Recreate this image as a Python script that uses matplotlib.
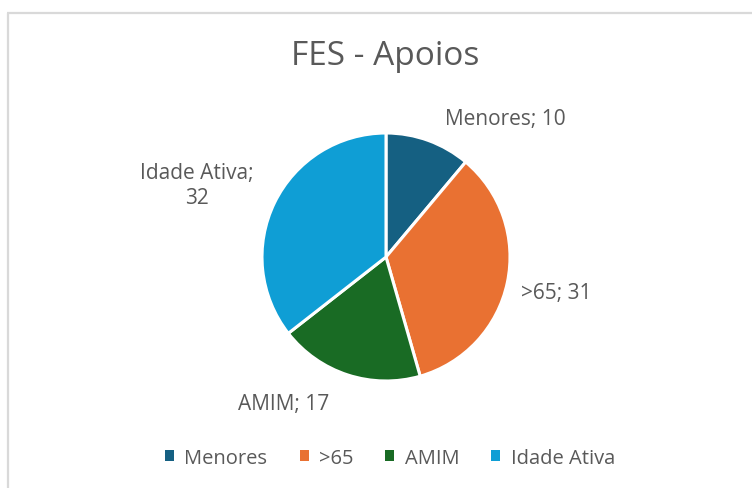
import matplotlib.pyplot as plt
from matplotlib.patches import Patch

categories = ["Menores", ">65", "AMIM", "Idade Ativa"]
values = [10, 31, 17, 32]
colors = ["#156082", "#E97132", "#196B24", "#0F9ED5"]
label_text = ["Menores; 10", ">65; 31", "AMIM; 17", "Idade Ativa;\n32"]

W, H = 752, 489
text_color = "#595959"
plt.rcParams['font.family'] = ['Open Sans', 'DejaVu Sans']

fig = plt.figure(figsize=(W / 100, H / 100), dpi=100)
ax = fig.add_axes([0, 0, 1, 1])
ax.set_xlim(0, W)
ax.set_ylim(0, H)
ax.set_aspect('equal')
ax.axis('off')

# pixel positions of the pie and data labels (y measured from top)
cx, cy, r = 386, 258, 124
ax.pie(values, colors=colors, startangle=90, counterclock=False,
       center=(cx, H - cy), radius=r,
       wedgeprops=dict(edgecolor='white', linewidth=2.2))
ax.set_xlim(0, W)
ax.set_ylim(0, H)

label_pos = [(505, 120), (556, 294), (284, 405), (197, 186)]
for txt, (x, y) in zip(label_text, label_pos):
    ax.text(x, H - y, txt, ha='center', va='center', fontsize=15,
            color=text_color, linespacing=1.3)

ax.text(385, H - 57, "FES - Apoios", ha='center', va='center',
        fontsize=24, color=text_color)

# chart area border
ax.plot([7.5, 7.5], [0, H - 14], color='#D9D9D9', lw=1.6, solid_capstyle='butt')
ax.plot([7, W], [H - 14, H - 14], color='#D9D9D9', lw=1.6, solid_capstyle='butt')

handles = [Patch(facecolor=c, edgecolor='none', label=l) for c, l in zip(colors, categories)]
fig.legend(handles=handles, loc='center', bbox_to_anchor=(390 / W, 1 - 459 / H),
           ncol=4, frameon=False, fontsize=14.5, labelcolor=text_color,
           handlelength=0.45, handleheight=0.45, handletextpad=0.5, columnspacing=1.6)

fig.savefig("out.png", dpi=100)
